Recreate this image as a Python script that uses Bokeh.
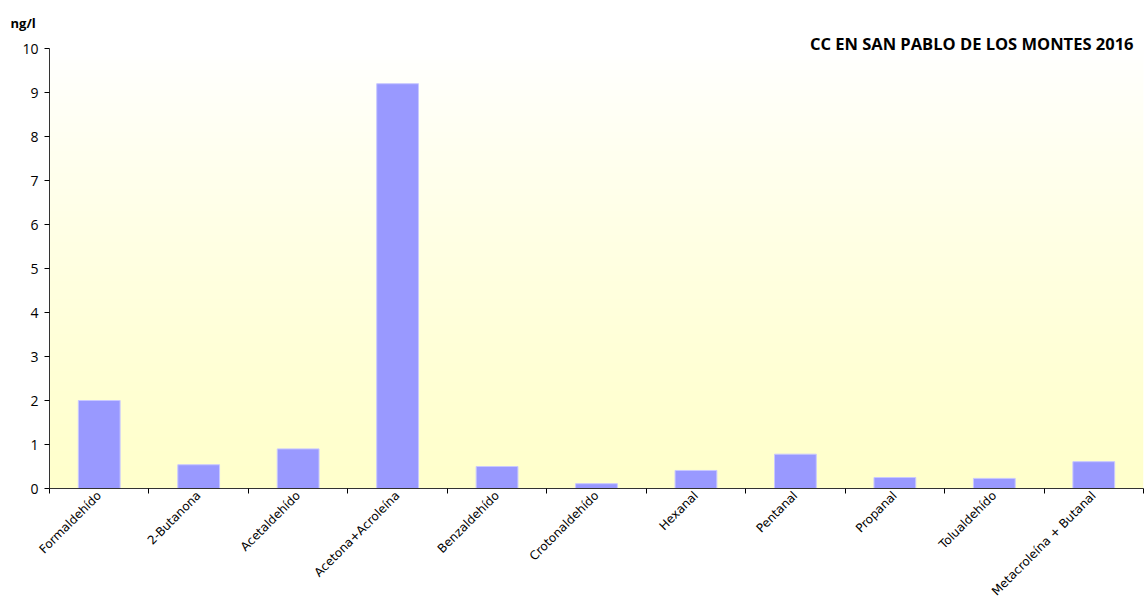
import numpy as np
from math import pi
from bokeh.plotting import figure
from bokeh.models import ColumnDataSource, FixedTicker, Range1d, Title
from bokeh.embed import file_html
from bokeh.resources import INLINE

categories = ["Formaldehído", "2-Butanona", "Acetaldehído", "Acetona+Acroleína",
              "Benzaldehído", "Crotonaldehído", "Hexanal", "Pentanal", "Propanal",
              "Tolualdehído", "Metacroleína + Butanal"]
values = [2.0, 0.54, 0.9, 9.2, 0.5, 0.11, 0.41, 0.78, 0.25, 0.23, 0.61]
y_ticks = [0, 1, 2, 3, 4, 5, 6, 7, 8, 9, 10]
title_text = "CC EN SAN PABLO DE LOS MONTES 2016"
unit_text = "ng/l"

n = len(categories)
x_pos = [i + 0.5 for i in range(n)]

p = figure(width=1146, height=606, output_backend="svg", toolbar_location=None,
           x_range=Range1d(0, n), y_range=Range1d(0, 10),
           min_border_left=49, min_border_top=48, min_border_right=3, min_border_bottom=117)
p.outline_line_color = None
p.xgrid.grid_line_color = None
p.ygrid.grid_line_color = None
p.background_fill_color = "white"

# gradient background
rows = 200
img = np.zeros((rows, 2), dtype=np.uint32)
view = img.view(dtype=np.uint8).reshape((rows, 2, 4))
t = np.linspace(0, 1, rows)  # 0 bottom -> 1 top
bval = (204 + (255 - 204) * t ** 1.3).astype(np.uint8)
view[:, :, 0] = 255
view[:, :, 1] = 255
view[:, :, 2] = bval[:, None]
view[:, :, 3] = 255
p.image_rgba(image=[img], x=0, y=0, dw=n, dh=10)

src = ColumnDataSource(dict(x=x_pos, top=values))
p.vbar(x="x", top="top", width=0.42, bottom=0, source=src,
       fill_color="#9999FF", line_color="#C8C8FF", line_width=1)

# x axis
p.xaxis.ticker = FixedTicker(ticks=x_pos, minor_ticks=list(range(n + 1)))
p.xaxis.major_label_overrides = {x: c for x, c in zip(x_pos, categories)}
p.xaxis.major_label_orientation = pi / 4
p.xaxis.major_tick_line_color = None
p.xaxis.major_tick_in = 0
p.xaxis.major_tick_out = 0
p.xaxis.minor_tick_line_color = "black"
p.xaxis.minor_tick_in = 0
p.xaxis.minor_tick_out = 5
p.xaxis.axis_line_color = "#333333"
p.xaxis.major_label_text_font = "DejaVu Sans"
p.xaxis.major_label_text_font_size = "12px"
p.xaxis.major_label_text_color = "black"
p.xaxis.major_label_standoff = 0

# y axis
p.yaxis.ticker = FixedTicker(ticks=y_ticks, minor_ticks=[])
p.yaxis.major_tick_in = 0
p.yaxis.major_tick_out = 5
p.yaxis.major_tick_line_color = "black"
p.yaxis.axis_line_color = "#333333"
p.yaxis.major_label_text_font = "Open Sans"
p.yaxis.major_label_text_font_size = "14px"
p.yaxis.major_label_text_color = "black"
p.yaxis.major_label_standoff = 6

p.add_layout(Title(text=title_text, align="right", offset=10, standoff=-12,
                   text_font="Open Sans", text_font_style="bold",
                   text_font_size="16.5px", text_color="black"), "above")
p.add_layout(Title(text=unit_text, align="left", offset=-39, standoff=8,
                   text_font="Open Sans", text_font_style="bold",
                   text_font_size="13px", text_color="black"), "above")

open("out.html", "w").write(file_html(p, INLINE))
